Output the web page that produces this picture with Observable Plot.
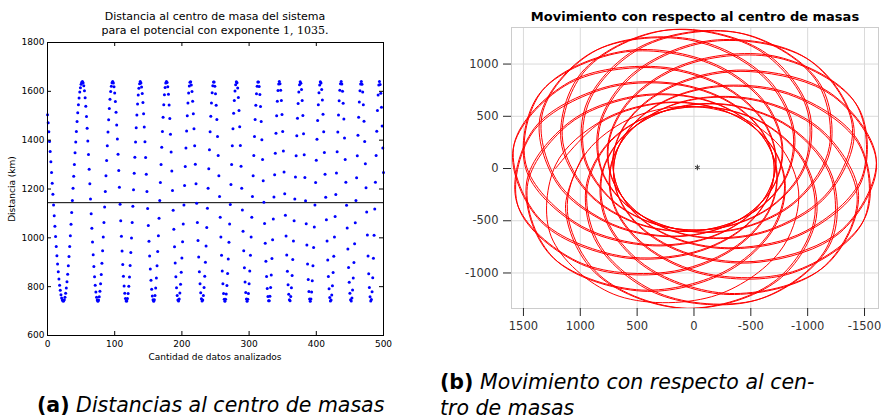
<!DOCTYPE html>
<html>
<head>
<meta charset="utf-8">
<script src="https://cdn.jsdelivr.net/npm/d3@7"></script>
<script src="https://cdn.jsdelivr.net/npm/@observablehq/plot@0.6"></script>
<style>
  html, body { margin: 0; padding: 0; background: #fff; }
  #root { position: relative; width: 881px; height: 419px; overflow: hidden; background: #fff; }
  .abs { position: absolute; white-space: nowrap; }
  #plotA { left: 0; top: 0; }
  #plotB { left: 440px; top: 0; }
  .titleA { font-family: "DejaVu Sans", sans-serif; font-size: 11px; line-height: 14px; color: #000; text-align: center; width: 400px; left: 15px; top: 10px; }
  .serif { font-family: "DejaVu Serif", "Liberation Serif", serif; }
  .xlabA { font-family: "DejaVu Sans", sans-serif; font-size: 9px; color: #000; left: 47px; width: 336px; text-align: center; top: 352px; }
  .ylabA { font-family: "DejaVu Sans", sans-serif; font-size: 9px; color: #000; left: 12px; top: 189px; transform: translate(-50%, -50%) rotate(-90deg); }
  .titleB { font-family: "DejaVu Sans", sans-serif; font-weight: bold; font-size: 13px; line-height: 15px; color: #000; left: 511px; width: 368px; text-align: center; top: 9px; }
  .cap { font-family: "DejaVu Sans", sans-serif; font-size: 20.5px; line-height: 26px; color: #000; }
  .cap b { font-style: normal; font-weight: bold; }
  .cap i { font-style: italic; }
</style>
</head>
<body>
<div id="root">
  <div id="plotA" class="abs"></div>
  <div id="plotB" class="abs"></div>
  <div class="abs titleA">Distancia al centro de masa del sistema<br>para el potencial con exponente <span class="serif">1, 1035.</span></div>
  <div class="abs xlabA">Cantidad de datos analizados</div>
  <div class="abs ylabA">Distancia (km)</div>
  <div class="abs titleB">Movimiento con respecto al centro de masas</div>
  <div class="abs cap" style="left:37px; top:392px;"><b>(a)</b> <i>Distancias al centro de masas</i></div>
  <div class="abs cap" style="left:440px; top:369px;"><b>(b)</b> <i>Movimiento con respecto al cen-</i><br><i>tro de masas</i></div>
</div>
<script>
// ---------- (a) distance to the centre of mass, one value per analysed sample ----------
const distancias = [
  1504,1471,1434,1395,1354,1312,1268,1224,1179,1134,1090,1047,1005,965,927,893,861,831,806,785,767,754,745,741,
  741,746,757,773,795,820,851,886,924,965,1009,1056,1104,1153,1203,1252,1300,1348,1393,1436,1476,1512,1545,1573,1597,1615,1629,1637,
  1640,1635,1623,1602,1574,1539,1497,1449,1397,1341,1281,1221,1159,1099,1039,983,931,883,841,806,778,757,745,
  740,745,759,781,812,850,896,947,1003,1063,1126,1190,1254,1317,1377,1433,1484,1530,1568,1599,1621,1635,
  1640,1634,1619,1593,1558,1514,1462,1405,1342,1276,1207,1138,1070,1006,946,891,843,803,773,752,741,
  741,752,772,802,840,887,940,999,1063,1129,1197,1264,1330,1393,1451,1503,1548,1585,1613,1631,
  1640,1634,1618,1591,1554,1508,1454,1394,1329,1260,1190,1120,1051,986,926,872,826,789,762,746,
  740,746,764,795,835,886,944,1009,1080,1153,1227,1300,1371,1436,1494,1545,1586,1616,1634,
  1640,
  1636,1619,1588,1544,1489,1424,1352,1274,1194,1113,1035,963,897,841,796,764,745,
  741,750,774,810,859,917,984,1057,1134,1214,1292,1368,1438,1500,1552,1593,1622,1637,
  1639,1626,1599,1559,1508,1447,1377,1301,1222,1142,1063,989,921,861,812,775,751,741,
  745,764,797,843,900,967,1042,1121,1203,1283,1361,1434,1498,1552,1594,1623,1638,
  1638,1621,1590,1543,1485,1415,1337,1254,1169,1084,1003,929,864,812,772,748,
  740,748,770,805,854,913,982,1057,1137,1218,1300,1377,1447,1510,1562,1601,1627,1639,
  1635,1614,1575,1522,1455,1378,1293,1203,1114,1027,947,877,819,776,749,
  740,748,772,812,864,929,1003,1084,1169,1254,1337,1415,1485,1543,1590,1621,1638,
  1638,1620,1587,1538,1476,1402,1321,1234,1146,1059,978,904,842,793,760,742,
  742,761,797,848,915,992,1077,1167,1258,1346,1428,1500,1559,1603,1630,
  1640,1631,1604,1562,1505,1435,1356,1270,1181,1093,1008,930,863,808,769,746,
  742,760,796,846,911,987,1070,1159,1249,1336,1418,1490,1550,1597,1627,1639,
  1633,1607,1562,1501,1426,1340,1247,1152,1058,971,893,829,780,750,
  740,750,778,824,886,960,1044,1134,1227,1318,1404,1481,1545,1594,1626,1639,
  1634,1608,1565,1506,1434,1350,1260,1166,1074,987,909,842,791,756,741,
  745,766,804,858,925,1003,1087,1177,1266,1353,1433,1503,1561,1604,1631,
  1640,1630,1600,1551,1487,1409,1321,1228,1133,1040,954,879,818,773,746,
  741,754,786,835,899,976,1062,1153,1246,1336,1420,1494,1556,1602,1630,
  1640,1629,1597,1545,1477,1395,1303,1205,1106,1012,926,853,797,759,741,
  747,779,837,916,1011,1118,1228,1337,1437,1521,1585,1626,1640,
  1628,1592,1535,1458,1368,1268
];
const distanciaMedia = [1144];
const ticksA_x = [0, 100, 200, 300, 400, 500];
const ticksA_y = [600, 800, 1000, 1200, 1400, 1600, 1800];

// ---------- (b) trajectory relative to the centre of mass ----------
const orbitaX = [
  1218,832,360,-77,-435,-689,-803,-706,-295,457,1231,1466,
  1113,549,29,-367,-623,-731,-664,-367,211,990,1545,1423,
  815,170,-308,-593,-704,-647,-411,34,681,1352,1591,1134,
  376,-237,-591,-717,-663,-451,-86,430,1033,1480,1363,649,
  -127,-604,-771,-717,-508,-177,254,751,1206,1352,899,52,
  -609,-866,-819,-593,-264,127,549,943,1171,990,279,-554,
  -985,-979,-725,-367,25,410,750,971,933,457,-389,-1065,
  -1191,-922,-505,-77,310,622,821,832,534,-155,-989,-1391,
  -1191,-706,-199,226,541,726,750,549,43,-740,-1419,-1476,
  -985,-367,143,490,679,705,549,170,-456,-1197,-1603,-1307,
  -609,34,459,670,699,561,254,-237,-876,-1448,-1510,-911,
  -127,430,696,733,599,321,-86,-604,-1145,-1448,-1156,-358,
  376,751,813,670,395,26,-411,-866,-1215,-1197,-602,257,
  815,943,789,490,123,-275,-664,-979,-1075,-740,56,828,
  1113,971,629,226,-171,-527,-803,-922,-750,-155,705,1255,
  1217,813,334,-102,-454,-697,-797,-682,-254,506,1266,1472,
  1095,520,0,-389,-634,-729,-647,-335,253,1028,1559,1408,
  783,136,-335,-608,-705,-635,-386,68,716,1372,1582,1100,
  335,-270,-611,-722,-654,-431,-57,460,1055,1479,1332,602,
  -169,-631,-780,-711,-491,-152,281,773,1211,1330,852,0,
  -646,-882,-817,-578,-241,152,570,952,1159,951,224,-602,
  -1009,-981,-711,-345,50,431,761,966,905,408,-443,-1100,
  -1199,-910,-482,-51,332,635,821,813,495,-206,-1032,-1408,
  -1181,-682,-171,250,557,729,738,520,0,-784,-1444,-1471,
  -959,-335,171,509,685,698,528,136,-495,-1227,-1606,-1282,
  -572,68,483,680,695,544,227,-270,-905,-1458,-1490,-870,
  -85,460,711,733,586,298,-114,-631,-1158,-1436,-1116,-308,
  416,773,816,659,374,0,-436,-882,-1211,-1166,-550,308,
  846,952,781,471,99,-299,-681,-981,-1054,-695,112,870,
  1130,966
];
const orbitaY = [
  0,433,615,608,463,209,-142,-568,-986,-1174,-861,-172,
  413,678,684,529,276,-43,-402,-758,-1001,-917,-369,340,
  755,806,634,359,41,-287,-592,-818,-842,-502,187,793,
  966,794,475,127,-201,-481,-680,-735,-538,0,710,1109,
  1010,645,234,-127,-408,-593,-651,-526,-141,502,1111,1233,
  880,384,-48,-359,-545,-602,-508,-225,280,917,1320,1144,
  597,57,-321,-529,-588,-507,-278,114,653,1174,1300,857,
  211,-280,-539,-608,-528,-324,0,433,913,1227,1056,422,
  -211,-568,-664,-581,-378,-85,278,678,1015,1069,629,-86,
  -597,-758,-674,-454,-162,168,508,806,942,725,94,-579,
  -880,-818,-567,-248,82,393,651,794,706,257,-458,-972,
  -1010,-735,-362,0,312,549,680,645,347,-257,-931,-1197,
  -966,-526,-95,248,487,611,592,384,-71,-725,-1242,-1215,
  -755,-225,189,454,579,567,402,57,-477,-1069,-1339,-1023,
  -413,114,440,581,571,424,142,-280,-801,-1227,-1204,-654,
  35,457,625,605,450,189,-165,-588,-994,-1160,-825,-129,
  445,694,684,518,258,-64,-421,-768,-994,-888,-324,381,
  778,810,625,342,20,-306,-604,-817,-822,-463,233,826,
  976,787,458,106,-220,-494,-682,-722,-508,43,749,1127,
  1006,627,212,-148,-423,-598,-643,-504,-106,541,1136,1234,
  862,359,-72,-376,-552,-598,-492,-198,314,945,1327,1127,
  568,28,-342,-540,-587,-495,-256,142,680,1186,1288,825,
  176,-307,-554,-610,-519,-306,24,457,928,1222,1026,381,
  -246,-588,-670,-574,-362,-64,300,694,1016,1047,588,-129,
  -625,-768,-670,-440,-142,188,524,810,928,690,47,-617,
  -897,-817,-554,-228,102,409,658,787,680,215,-502,-998,
  -1013,-722,-342,21,329,558,677,627,314,-299,-964,-1206,
  -954,-504,-71,267,498,611,580,359,-106,-760,-1259,-1207,
  -731,-198,212,468,582,559,383,28,-508,-1090,-1337,-998,
  -381,142
];
const centroX = [-30];
const centroY = [10];
const ticksB_x = [1500, 1000, 500, 0, -500, -1000, -1500];
const ticksB_y = [-1000, -500, 0, 500, 1000];

// ---------- chart (a) ----------
const innerHA = 368 - 42 - 33;
const innerWA = 400 - 47 - 17;
const plotA = Plot.plot({
  width: 400, height: 368,
  marginLeft: 47, marginRight: 17, marginTop: 42, marginBottom: 33,
  style: { fontFamily: "'DejaVu Sans', sans-serif", fontSize: "9px", color: "#000", background: "transparent", overflow: "visible" },
  x: { domain: [0, 500], label: null },
  y: { domain: [600, 1800], label: null },
  marks: [
    Plot.ruleY(distanciaMedia, { stroke: "#000", strokeWidth: 1 }),
    Plot.dot(distancias, { x: (d, i) => i, y: d => d, r: 1.5, fill: "#0000ff", stroke: "none" }),
    Plot.frame({ stroke: "#000", strokeWidth: 1 }),
    Plot.tickX(ticksA_x, { x: d => d, insetTop: innerHA - 4, stroke: "#000" }),
    Plot.tickX(ticksA_x, { x: d => d, insetBottom: innerHA - 4, stroke: "#000" }),
    Plot.tickY(ticksA_y, { y: d => d, insetRight: innerWA - 4, stroke: "#000" }),
    Plot.tickY(ticksA_y, { y: d => d, insetLeft: innerWA - 4, stroke: "#000" }),
    Plot.axisX(ticksA_x, { anchor: "bottom", tickSize: 0, tickPadding: 5, tickFormat: d => String(d), label: null }),
    Plot.axisY(ticksA_y, { anchor: "left", tickSize: 0, tickPadding: 3, tickFormat: d => String(d), label: null })
  ]
});
document.getElementById("plotA").appendChild(plotA);

// ---------- chart (b) ----------
const orbita = orbitaX.map((x, i) => ({ x, y: orbitaY[i] }));
const centro = centroX.map((x, i) => ({ x, y: centroY[i] }));
const plotB = Plot.plot({
  width: 441, height: 340,
  marginLeft: 71, marginRight: 3, marginTop: 27, marginBottom: 32,
  style: { fontFamily: "'DejaVu Sans', sans-serif", fontSize: "11.5px", color: "#333", background: "transparent", overflow: "visible" },
  x: { domain: [1605, -1623], label: null },
  y: { domain: [-1340, 1350], label: null },
  marks: [
    Plot.gridX(ticksB_x, { stroke: "#dadada", strokeOpacity: 1 }),
    Plot.gridY(ticksB_y, { stroke: "#dadada", strokeOpacity: 1 }),
    Plot.frame({ stroke: "#cccccc" }),
    Plot.line(orbita, { x: "x", y: "y", stroke: "#ff0000", strokeWidth: 1, curve: "catmull-rom", clip: true }),
    Plot.dot(centro, { x: "x", y: "y", symbol: "asterisk", r: 2.6, stroke: "#333", strokeWidth: 1 }),
    Plot.axisX(ticksB_x, { anchor: "bottom", tickSize: 8, tickPadding: 5, tickFormat: d => String(d), label: null, line: true, stroke: "#262626" }),
    Plot.axisY(ticksB_y, { anchor: "left", tickSize: 8, tickPadding: 5, tickFormat: d => String(d), label: null, line: true, stroke: "#262626" })
  ]
});
document.getElementById("plotB").appendChild(plotB);
</script>
</body>
</html>
